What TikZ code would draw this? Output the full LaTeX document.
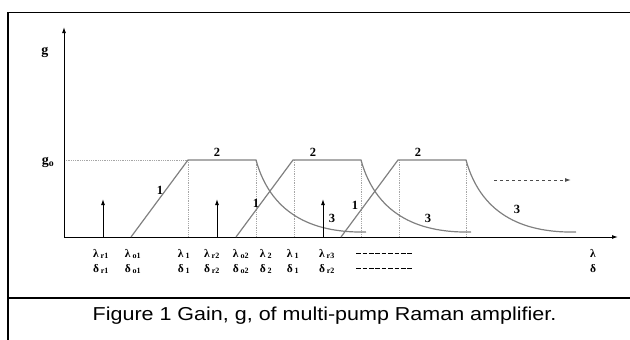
\documentclass[tikz,border=0pt]{standalone}
\usepackage{graphicx}
\usepackage{fontspec}
\setmainfont{Liberation Serif}
\newfontfamily\capfont{Liberation Sans}
\usetikzlibrary{arrows.meta}
\newcommand\low[1]{\,\textsubscript{#1}}
\newcommand\dashrow{\foreach \k in {1,...,9}{\rule[3.3pt]{4.6pt}{0.9pt}\hspace{1.8pt}}}

\begin{document}
\begin{tikzpicture}[x=1pt, y=-1pt,
        axis/.style={line width=1pt, -{Latex[length=6pt,width=4pt]}},
        pump/.style={line width=1pt, -{Latex[length=6pt,width=4pt]}},
        gain/.style={line width=1.2pt, draw=black!50},
        guide/.style={densely dotted, draw=black!35, line width=0.8pt},
        lab/.style={font=\fontsize{11.5}{13}\selectfont\bfseries, inner sep=0pt, anchor=base},
        num/.style={font=\fontsize{12.5}{14}\selectfont\bfseries, inner sep=0pt}
      ]
        \useasboundingbox (0,0) rectangle (630,340);
        \draw[line width=2pt] (8,340) -- (8,11.5);
        \draw[line width=1.3pt] (7,12.5) -- (630,12.5);
        \draw[line width=2pt] (7,298) -- (630,298);

        \coordinate (O) at (64,237);
        \coordinate (ytip) at (64,27);
        \coordinate (xtip) at (618,237);
        \coordinate (go) at (64,160);
        \draw[guide] (go) -- (188,160);
        \foreach \x in {188,256,294,361,399,466}
          \draw[guide] (\x,160) -- (\x,237);
        \draw[axis] (O) -- (ytip);
        \draw[axis] (O) -- (xtip);
        \node[font=\fontsize{14}{16}\selectfont\bfseries, inner sep=0pt] (g) at (45,52) {g};
        \node[font=\fontsize{14}{16}\selectfont\bfseries, inner sep=0pt, anchor=base] (glev) at (48,164) {g\textsubscript{o}};

        \foreach \dx in {0,105,210}
          \draw[gain] (131+\dx,237) -- (188+\dx,160) -- (256+\dx,160)
            .. controls (272+\dx,218) and (318+\dx,233) .. (366+\dx,232);
        \foreach \x [count=\i] in {103,217,323} {
          \coordinate (p\i) at (\x,237);
          \coordinate (q\i) at (\x,199);
          \draw[pump] (p\i) -- (q\i);
        }

        \foreach \x/\y [count=\i] in {160/190,256/203,355/205}
          \node[num] (one\i) at (\x,\y) {1};
        \foreach \x/\y [count=\i] in {217/152,313/152,418/152}
          \node[num] (two\i) at (\x,\y) {2};
        \foreach \x/\y [count=\i] in {332/218,428/218,517/209}
          \node[num] (three\i) at (\x,\y) {3};

        \coordinate (shiftA) at (494,180);
        \coordinate (shiftB) at (571,180);
        \draw[dashed, line width=1pt, draw=black!70, -{Latex[length=6pt,width=4pt]}] (shiftA) -- (shiftB);

        \foreach \x/\s/\t [count=\i] in {101/r1/r1,133/o1/o1,184/1/1,212/r2/r2,241/o2/o2,266/2/2,293/1/1,327/r3/r2} {
          \node[lab] (lam\i) at (\x,257) {λ\low{\s}};
          \node[lab] (del\i) at (\x,272) {δ\low{\t}};
        }
        \node[lab] (dashA) at (384,257) {\dashrow};
        \node[lab] (dashB) at (384,272) {\dashrow};
        \node[lab] (lam) at (593,257) {λ};
        \node[lab] (del) at (593,272) {δ};

        \node[font=\capfont\fontsize{21.5}{24}\selectfont, inner sep=0pt, anchor=base] (caption) at (324.5,320.7)
          {\scalebox{1}[0.87]{Figure 1 Gain, g, of multi-pump Raman amplifier.}};
      \end{tikzpicture}
\end{document}
